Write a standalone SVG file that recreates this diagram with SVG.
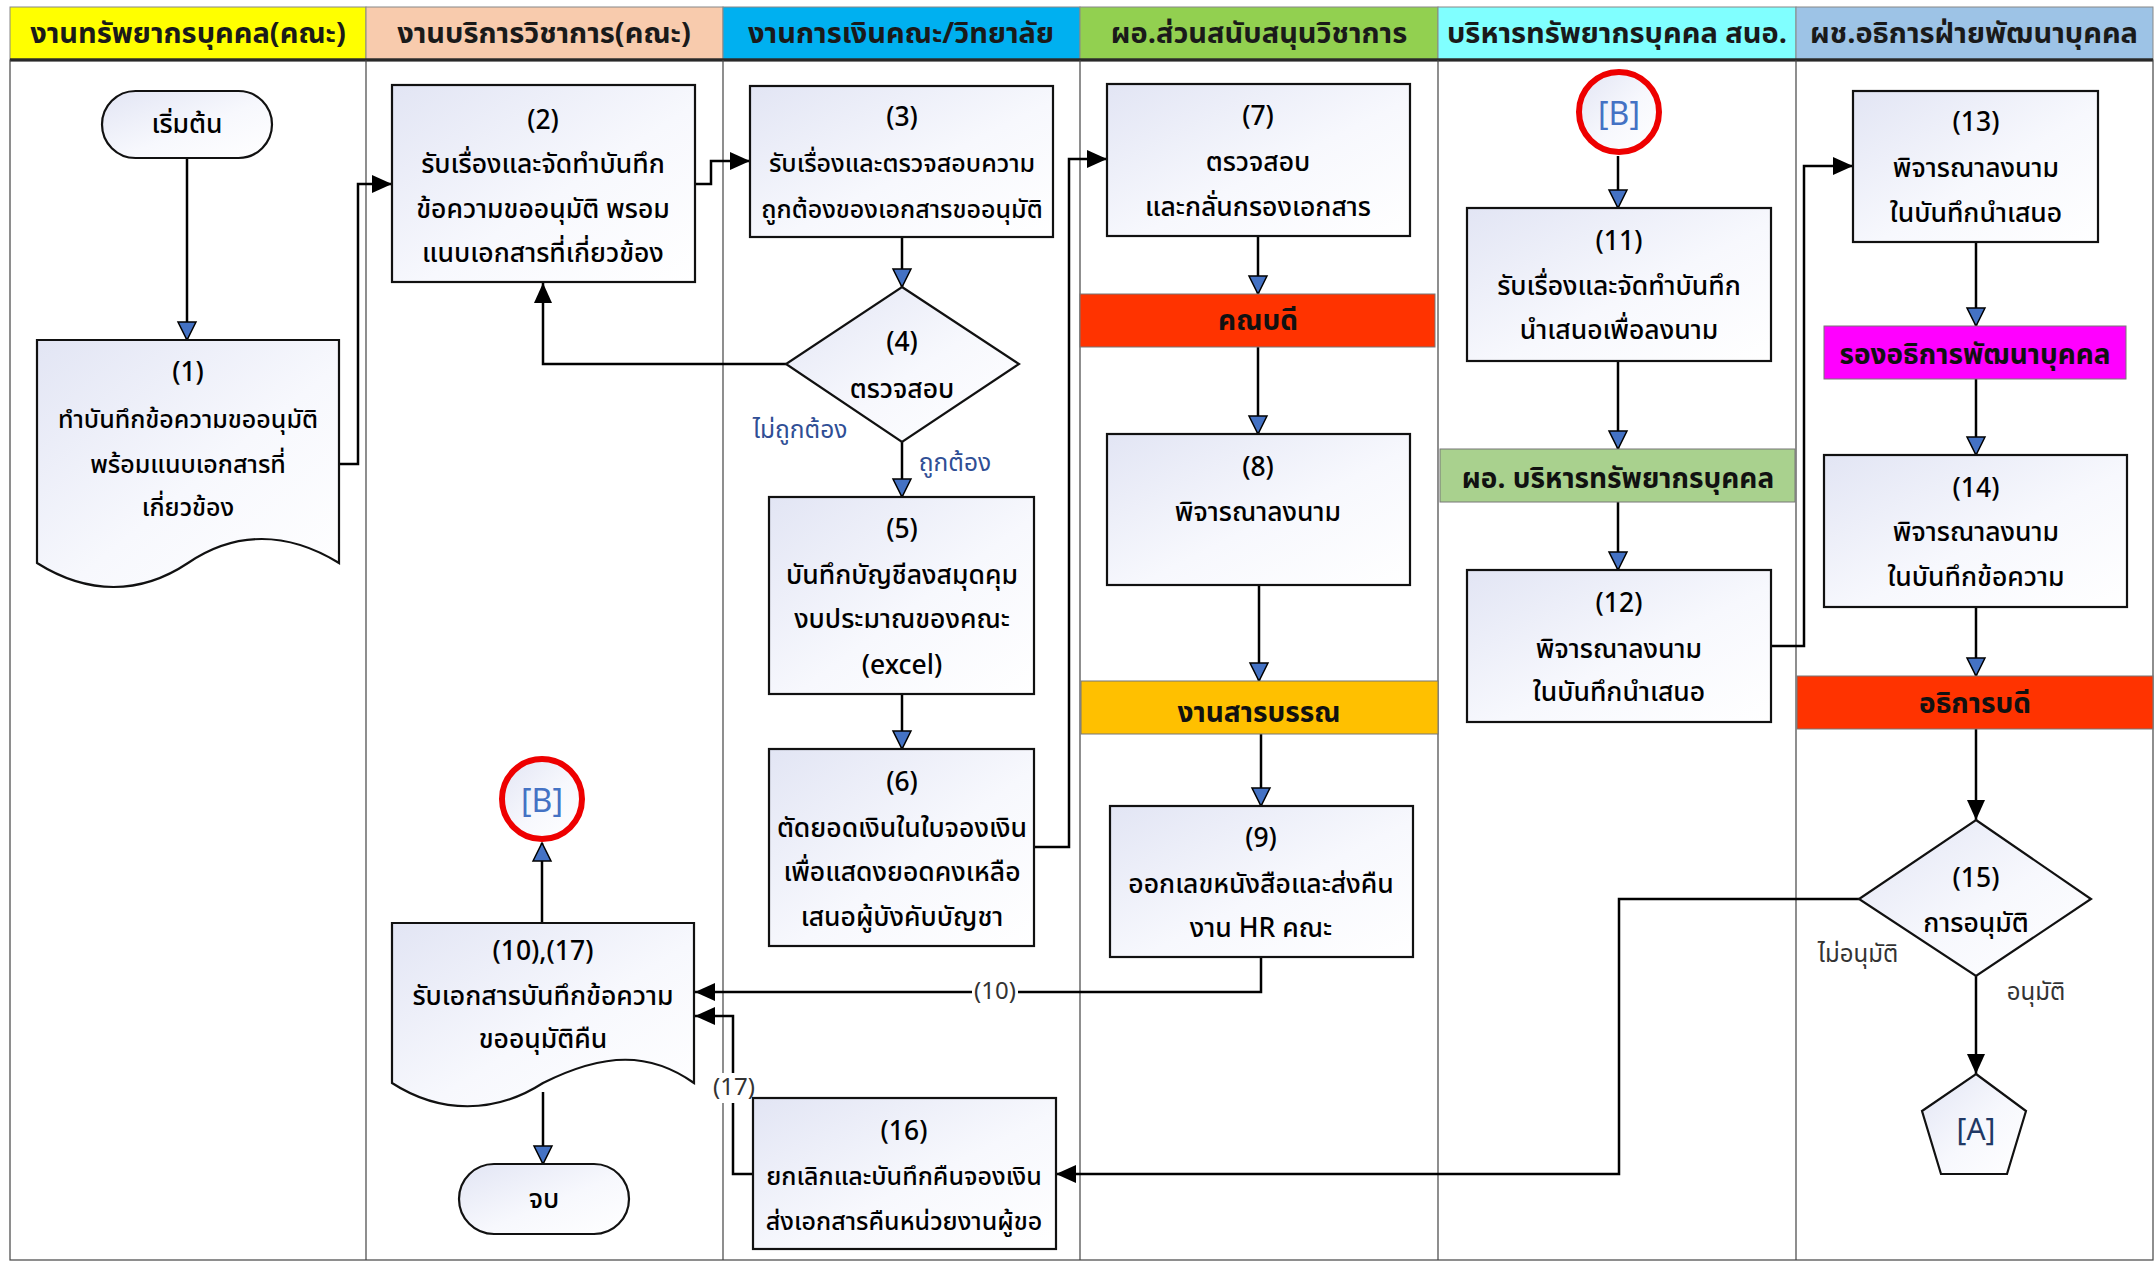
<svg xmlns="http://www.w3.org/2000/svg" width="2155" height="1263" viewBox="0 0 2155 1263">
<defs>
<linearGradient id="gf" x1="0" y1="0" x2="1" y2="1">
<stop offset="0" stop-color="#E2E5F4"/>
<stop offset="0.55" stop-color="#F7F8FD"/>
<stop offset="1" stop-color="#FFFFFF"/>
</linearGradient>
<marker id="ab" markerUnits="userSpaceOnUse" markerWidth="22" markerHeight="22" viewBox="0 0 22 22" refX="19" refY="11" orient="auto">
<path d="M1,2 L19,11 L1,20 Z" fill="#4472C4" stroke="#000" stroke-width="1.5"/>
</marker>
<marker id="ak" markerUnits="userSpaceOnUse" markerWidth="22" markerHeight="22" viewBox="0 0 22 22" refX="20" refY="11" orient="auto">
<path d="M0,2 L20,11 L0,20 Z" fill="#000"/>
</marker>
<style>
.hd{font-family:'Noto Sans Thai','Noto Sans','DejaVu Sans',sans-serif;font-size:29px;font-weight:bold;fill:#1a1a1a;text-anchor:middle;dominant-baseline:central}
.t{font-family:'Noto Sans Thai','Noto Sans','DejaVu Sans',sans-serif;font-size:26.5px;font-weight:500;fill:#000;text-anchor:middle;dominant-baseline:central}
.s{font-size:25px}
.tb{font-family:'Noto Sans Thai','Noto Sans','DejaVu Sans',sans-serif;font-size:28px;font-weight:bold;fill:#111;text-anchor:middle;dominant-baseline:central}
.lb{font-family:'Noto Sans Thai','Noto Sans','DejaVu Sans',sans-serif;font-size:24.5px;fill:#2F4E95;text-anchor:middle;dominant-baseline:central}
.lg{font-family:'Noto Sans Thai','Noto Sans','DejaVu Sans',sans-serif;font-size:24px;fill:#333;text-anchor:middle;dominant-baseline:central}
.cn{font-family:'Noto Sans','DejaVu Sans',sans-serif;font-size:32px;fill:#4472C4;text-anchor:middle;dominant-baseline:central}
.bx{fill:url(#gf);stroke:#111;stroke-width:2.2}
.bar{stroke:#777;stroke-width:1}
.ln{fill:none;stroke:#000;stroke-width:2.5}
.lane{fill:none;stroke:#444;stroke-width:1.2}
</style>
</defs>
<rect width="2155" height="1263" fill="#fff"/>

<g id="lanes">
<rect x="10" y="7" width="356" height="52" fill="#FFFF00" stroke="#888" stroke-width="1"/>
<rect x="366" y="7" width="357" height="52" fill="#F8CBAD" stroke="#888" stroke-width="1"/>
<rect x="723" y="7" width="357" height="52" fill="#00B0F0" stroke="#888" stroke-width="1"/>
<rect x="1080" y="7" width="358" height="52" fill="#92D050" stroke="#888" stroke-width="1"/>
<rect x="1438" y="7" width="358" height="52" fill="#80FFFF" stroke="#888" stroke-width="1"/>
<rect x="1796" y="7" width="357" height="52" fill="#9DC3E6" stroke="#888" stroke-width="1"/>
<text class="hd" x="188" y="34">งานทรัพยากรบุคคล(คณะ)</text>
<text class="hd" x="544" y="34">งานบริการวิชาการ(คณะ)</text>
<text class="hd" x="901" y="34">งานการเงินคณะ/วิทยาลัย</text>
<text class="hd" x="1259" y="34">ผอ.ส่วนสนับสนุนวิชาการ</text>
<text class="hd" x="1617" y="34">บริหารทรัพยากรบุคคล สนอ.</text>
<text class="hd" x="1974" y="34">ผช.อธิการฝ่ายพัฒนาบุคคล</text>
<line x1="10" y1="60" x2="2153" y2="60" stroke="#000" stroke-width="3"/>
<rect x="10" y="60" width="2143" height="1200" class="lane"/>
<line x1="366" y1="60" x2="366" y2="1260" class="lane"/>
<line x1="723" y1="60" x2="723" y2="1260" class="lane"/>
<line x1="1080" y1="60" x2="1080" y2="1260" class="lane"/>
<line x1="1438" y1="60" x2="1438" y2="1260" class="lane" stroke="#777"/>
<line x1="1796" y1="60" x2="1796" y2="1260" class="lane" stroke="#777"/>
</g>

<g id="connectors">
<line x1="187" y1="158" x2="187" y2="340" class="ln" marker-end="url(#ab)"/>
<polyline points="339,464 358,464 358,184 392,184" class="ln" marker-end="url(#ak)"/>
<polyline points="695,184 711,184 711,161 750,161" class="ln" marker-end="url(#ak)"/>
<line x1="902" y1="237" x2="902" y2="287" class="ln" marker-end="url(#ab)"/>
<polyline points="786,364 543,364 543,283" class="ln" marker-end="url(#ak)"/>
<line x1="902" y1="442" x2="902" y2="497" class="ln" marker-end="url(#ab)"/>
<line x1="902" y1="694" x2="902" y2="749" class="ln" marker-end="url(#ab)"/>
<polyline points="1034,847 1069,847 1069,159 1107,159" class="ln" marker-end="url(#ak)"/>
<line x1="1258" y1="236" x2="1258" y2="294" class="ln" marker-end="url(#ab)"/>
<line x1="1258" y1="347" x2="1258" y2="434" class="ln" marker-end="url(#ab)"/>
<line x1="1259" y1="585" x2="1259" y2="681" class="ln" marker-end="url(#ab)"/>
<line x1="1261" y1="734" x2="1261" y2="806" class="ln" marker-end="url(#ab)"/>
<polyline points="1261,957 1261,992 695,992" class="ln" marker-end="url(#ak)"/>
<polyline points="753,1174 733,1174 733,1016 695,1016" class="ln" marker-end="url(#ak)"/>
<line x1="542" y1="924" x2="542" y2="843" class="ln" marker-end="url(#ab)"/>
<line x1="543" y1="1092" x2="543" y2="1164" class="ln" marker-end="url(#ab)"/>
<line x1="1618" y1="156" x2="1618" y2="208" class="ln" marker-end="url(#ab)"/>
<line x1="1618" y1="361" x2="1618" y2="449" class="ln" marker-end="url(#ab)"/>
<line x1="1618" y1="502" x2="1618" y2="570" class="ln" marker-end="url(#ab)"/>
<polyline points="1771,646 1804,646 1804,166 1853,166" class="ln" marker-end="url(#ak)"/>
<line x1="1976" y1="242" x2="1976" y2="326" class="ln" marker-end="url(#ab)"/>
<line x1="1976" y1="379" x2="1976" y2="455" class="ln" marker-end="url(#ab)"/>
<line x1="1976" y1="607" x2="1976" y2="676" class="ln" marker-end="url(#ab)"/>
<line x1="1976" y1="729" x2="1976" y2="820" class="ln" marker-end="url(#ak)"/>
<line x1="1976" y1="976" x2="1976" y2="1074" class="ln" marker-end="url(#ak)"/>
<polyline points="1859,899 1619,899 1619,1174 1056,1174" class="ln" marker-end="url(#ak)"/>
<rect x="972" y="978" width="46" height="28" fill="#fff"/>
<text class="lg" x="995" y="992">(10)</text>
<rect x="710" y="1073" width="46" height="30" fill="#fff"/>
<text class="lg" x="734" y="1088">(17)</text>
<text class="lb" x="800" y="430">ไม่ถูกต้อง</text>
<text class="lb" x="955" y="463">ถูกต้อง</text>
<text class="lg" x="1858" y="955">ไม่อนุมัติ</text>
<text class="lg" x="2036" y="993">อนุมัติ</text>
</g>

<g id="n-start">
<rect x="102" y="91" width="170" height="67" rx="33.5" class="bx"/>
<text class="t" x="187" y="125">เริ่มต้น</text>
</g>
<g id="n1">
<path d="M37,340 H339 V563 C287,531 235,531 188,563 C140,595 88,595 37,563 Z" class="bx"/>
<text class="t" x="188" y="373">(1)</text>
<text class="t s" x="188" y="420">ทำบันทึกข้อความขออนุมัติ</text>
<text class="t s" x="188" y="465">พร้อมแนบเอกสารที่</text>
<text class="t s" x="188" y="508">เกี่ยวข้อง</text>
</g>
<g id="n2">
<rect x="392" y="85" width="303" height="197" class="bx"/>
<text class="t" x="543" y="121">(2)</text>
<text class="t" x="543" y="165">รับเรื่องและจัดทำบันทึก</text>
<text class="t" x="543" y="210">ข้อความขออนุมัติ พรอม</text>
<text class="t" x="543" y="254">แนบเอกสารที่เกี่ยวข้อง</text>
</g>
<g id="n3">
<rect x="750" y="86" width="303" height="151" class="bx"/>
<text class="t" x="902" y="118">(3)</text>
<text class="t s" x="902" y="164">รับเรื่องและตรวจสอบความ</text>
<text class="t s" x="902" y="210">ถูกต้องของเอกสารขออนุมัติ</text>
</g>
<g id="n4">
<polygon points="902,287 1019,364 902,442 786,364" class="bx"/>
<text class="t" x="902" y="343">(4)</text>
<text class="t" x="902" y="390">ตรวจสอบ</text>
</g>
<g id="n5">
<rect x="769" y="497" width="265" height="197" class="bx"/>
<text class="t" x="902" y="530">(5)</text>
<text class="t" x="902" y="576">บันทึกบัญชีลงสมุดคุม</text>
<text class="t" x="902" y="620">งบประมาณของคณะ</text>
<text class="t" x="902" y="666">(excel)</text>
</g>
<g id="n6">
<rect x="769" y="749" width="265" height="197" class="bx"/>
<text class="t" x="902" y="783">(6)</text>
<text class="t" x="902" y="829">ตัดยอดเงินในใบจองเงิน</text>
<text class="t" x="902" y="873">เพื่อแสดงยอดคงเหลือ</text>
<text class="t" x="902" y="918">เสนอผู้บังคับบัญชา</text>
</g>
<g id="n7">
<rect x="1107" y="84" width="303" height="152" class="bx"/>
<text class="t" x="1258" y="117">(7)</text>
<text class="t" x="1258" y="163">ตรวจสอบ</text>
<text class="t" x="1258" y="208">และกลั่นกรองเอกสาร</text>
</g>
<g id="n-dean">
<rect x="1080" y="294" width="355" height="53" fill="#FF3300" class="bar"/>
<text class="tb" x="1258" y="321">คณบดี</text>
</g>
<g id="n8">
<rect x="1107" y="434" width="303" height="151" class="bx"/>
<text class="t" x="1258" y="468">(8)</text>
<text class="t" x="1258" y="513">พิจารณาลงนาม</text>
</g>
<g id="n-saraban">
<rect x="1081" y="681" width="357" height="53" fill="#FFC000" class="bar"/>
<text class="tb" x="1259" y="713">งานสารบรรณ</text>
</g>
<g id="n9">
<rect x="1110" y="806" width="303" height="151" class="bx"/>
<text class="t" x="1261" y="839">(9)</text>
<text class="t" x="1261" y="885">ออกเลขหนังสือและส่งคืน</text>
<text class="t" x="1261" y="929">งาน HR คณะ</text>
</g>
<g id="n-B2">
<circle cx="542" cy="799" r="40" fill="url(#gf)" stroke="#EE0000" stroke-width="6"/>
<text class="cn" x="542" y="799">[B]</text>
</g>
<g id="n10-17">
<path d="M392,923 H694 V1083 C650,1052 605,1052 543,1083 C495,1114 440,1114 392,1083 Z" class="bx"/>
<text class="t" x="543" y="952">(10),(17)</text>
<text class="t" x="543" y="997">รับเอกสารบันทึกข้อความ</text>
<text class="t" x="543" y="1040">ขออนุมัติคืน</text>
</g>
<g id="n-end">
<rect x="459" y="1164" width="170" height="70" rx="35" class="bx"/>
<text class="t" x="544" y="1200">จบ</text>
</g>
<g id="n16">
<rect x="753" y="1098" width="303" height="151" class="bx"/>
<text class="t" x="904" y="1132">(16)</text>
<text class="t s" x="904" y="1177">ยกเลิกและบันทึกคืนจองเงิน</text>
<text class="t s" x="904" y="1222">ส่งเอกสารคืนหน่วยงานผู้ขอ</text>
</g>
<g id="n-B1">
<circle cx="1619" cy="112" r="40" fill="url(#gf)" stroke="#EE0000" stroke-width="6"/>
<text class="cn" x="1619" y="112">[B]</text>
</g>
<g id="n11">
<rect x="1467" y="208" width="304" height="153" class="bx"/>
<text class="t" x="1619" y="242">(11)</text>
<text class="t" x="1619" y="287">รับเรื่องและจัดทำบันทึก</text>
<text class="t" x="1619" y="331">นำเสนอเพื่อลงนาม</text>
</g>
<g id="n-hrdir">
<rect x="1440" y="449" width="355" height="53" fill="#A9D18E" class="bar"/>
<text class="tb" x="1618" y="479">ผอ. บริหารทรัพยากรบุคคล</text>
</g>
<g id="n12">
<rect x="1467" y="570" width="304" height="152" class="bx"/>
<text class="t" x="1619" y="604">(12)</text>
<text class="t" x="1619" y="650">พิจารณาลงนาม</text>
<text class="t" x="1619" y="693">ในบันทึกนำเสนอ</text>
</g>
<g id="n13">
<rect x="1853" y="91" width="245" height="151" class="bx"/>
<text class="t" x="1976" y="123">(13)</text>
<text class="t" x="1976" y="169">พิจารณาลงนาม</text>
<text class="t" x="1976" y="214">ในบันทึกนำเสนอ</text>
</g>
<g id="n-vp">
<rect x="1824" y="326" width="302" height="53" fill="#FF00FF" class="bar"/>
<text class="tb" x="1975" y="355">รองอธิการพัฒนาบุคคล</text>
</g>
<g id="n14">
<rect x="1824" y="455" width="303" height="152" class="bx"/>
<text class="t" x="1976" y="489">(14)</text>
<text class="t" x="1976" y="533">พิจารณาลงนาม</text>
<text class="t" x="1976" y="578">ในบันทึกข้อความ</text>
</g>
<g id="n-president">
<rect x="1797" y="676" width="356" height="53" fill="#FF3300" class="bar"/>
<text class="tb" x="1975" y="704">อธิการบดี</text>
</g>
<g id="n15">
<polygon points="1976,820 2091,899 1976,976 1859,899" class="bx"/>
<text class="t" x="1976" y="879">(15)</text>
<text class="t" x="1976" y="924">การอนุมัติ</text>
</g>
<g id="n-A">
<polygon points="1976,1074 2026,1111 2007,1174 1941,1174 1922,1111" class="bx"/>
<text class="cn" x="1976" y="1128" style="fill:#203864;font-size:30px">[A]</text>
</g>
</svg>
